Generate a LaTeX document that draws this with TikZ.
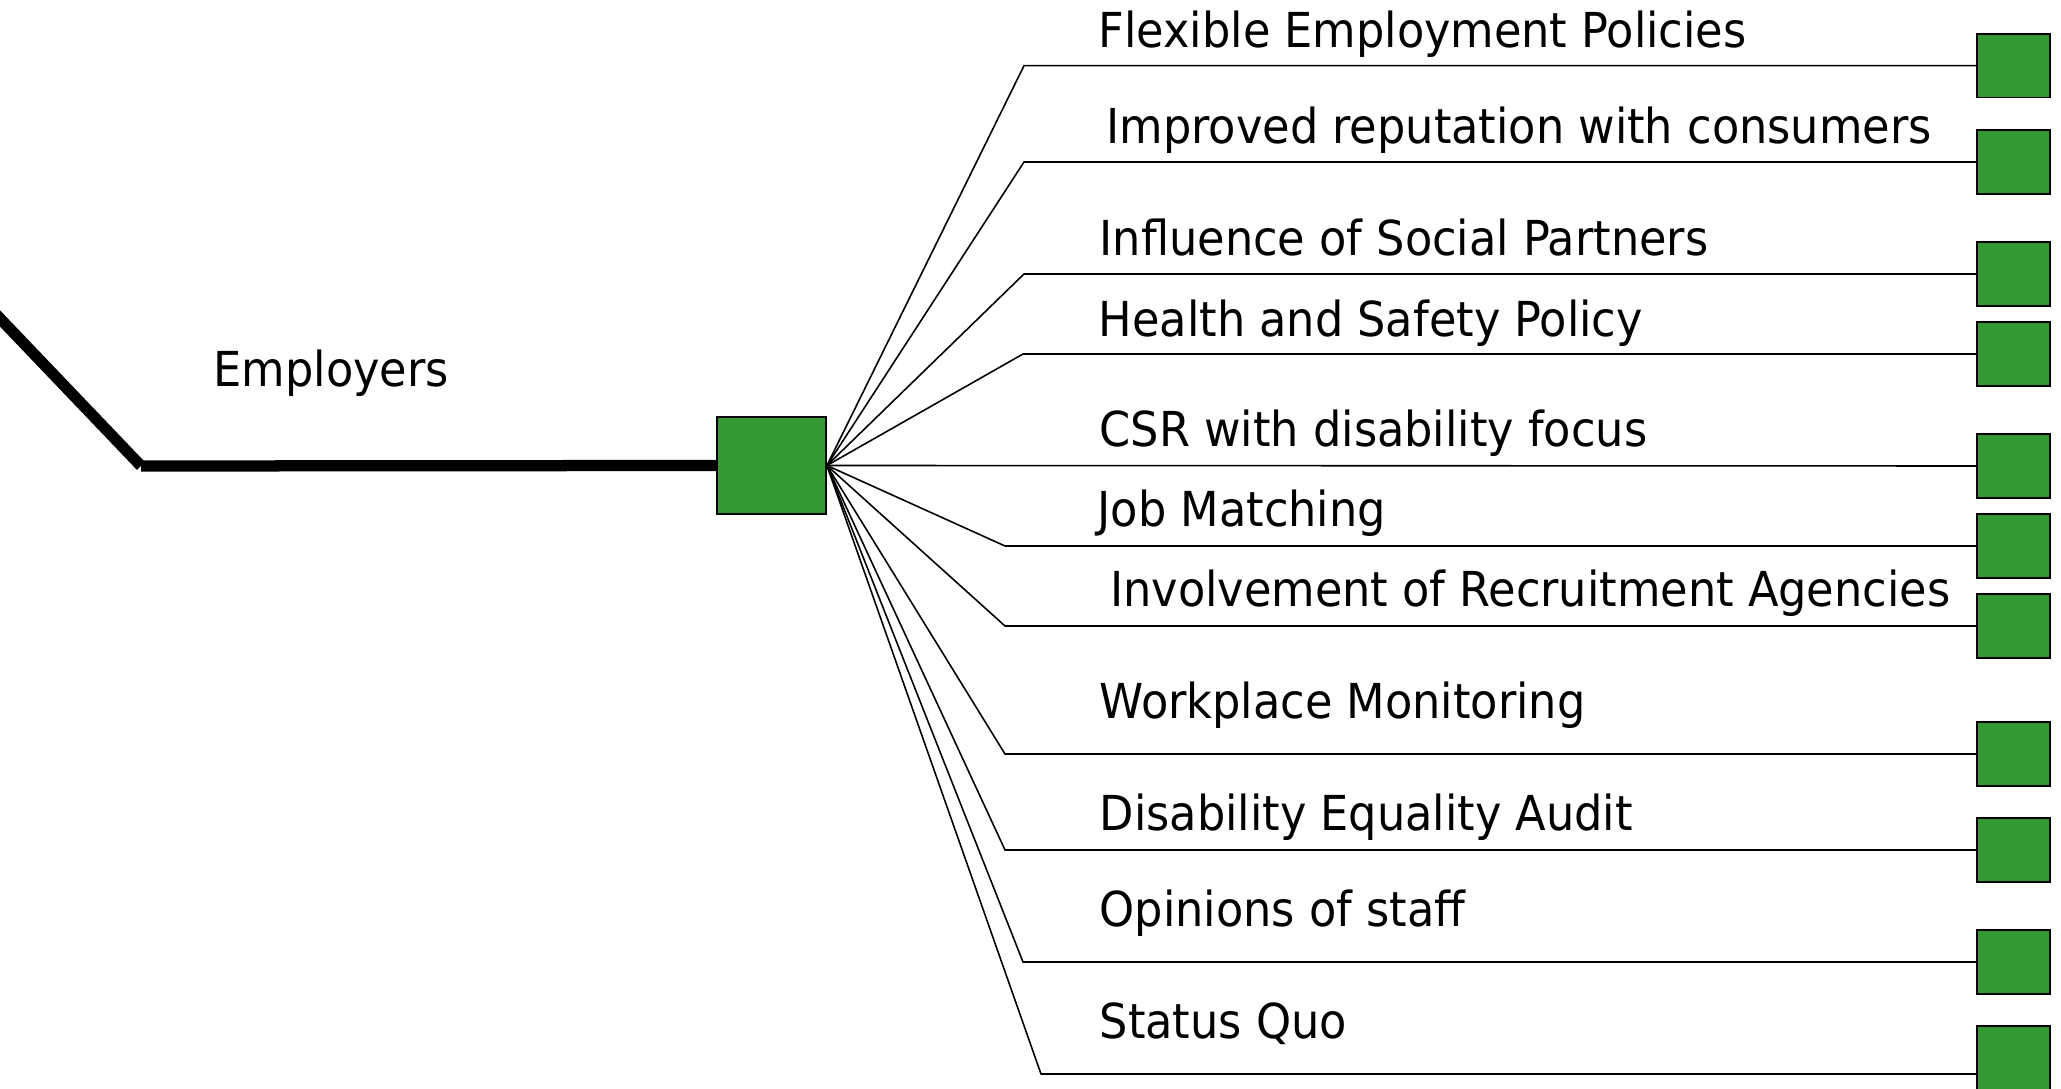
\documentclass[tikz,border=0pt]{standalone}
\usepackage{fontspec}
\setmainfont[FakeStretch=1.03]{DejaVu Sans Condensed}
\begin{document}
\begin{tikzpicture}[x=0.01cm,y=-0.01cm,
  leaf/.style={draw=black,line width=0.5pt,fill=boxgreen,inner sep=0pt,
    minimum width=0.73cm,minimum height=0.635cm},
  hubbox/.style={draw=black,line width=0.5pt,fill=boxgreen,inner sep=0pt,
    minimum width=1.09cm,minimum height=0.97cm},
  lbl/.style={anchor=base west,inner sep=0pt,font=\fontsize{13.7}{16}\selectfont},
  twig/.style={line width=0.45pt,draw=black},
  trunk/.style={line width=3.2pt,draw=black,line cap=butt}]
\definecolor{boxgreen}{RGB}{51,153,51}
\useasboundingbox (0,0) rectangle (2061,1089);

% central node and trunk
\node[hubbox] (hub) at (771.5,465.5) {};
\coordinate (trunktop) at (-10,308);
\coordinate (trunkknee) at (141,466);
\draw[trunk] (trunktop) -- (trunkknee);
\draw[trunk] (trunkknee) -- (hub.west);
\node[lbl] (employers) at (213,386.5) {Employers};

% leaf boxes on the right
\node[leaf] (r1)  at (2013.5,65.7) {};
\node[leaf] (r2)  at (2013.5,162) {};
\node[leaf] (r3)  at (2013.5,274) {};
\node[leaf] (r4)  at (2013.5,354) {};
\node[leaf] (r5)  at (2013.5,466) {};
\node[leaf] (r6)  at (2013.5,546) {};
\node[leaf] (r7)  at (2013.5,626) {};
\node[leaf] (r8)  at (2013.5,754) {};
\node[leaf] (r9)  at (2013.5,850) {};
\node[leaf] (r10) at (2013.5,962) {};
\node[leaf] (r11) at (2013.5,1058) {};

% bend points of the branches
\coordinate (b1)  at (1024,65.7);
\coordinate (b2)  at (1024,162);
\coordinate (b3)  at (1024,274);
\coordinate (b4)  at (1023,354);
\coordinate (b6)  at (1005,546);
\coordinate (b7)  at (1005,626);
\coordinate (b8)  at (1005,754);
\coordinate (b9)  at (1005,850);
\coordinate (b10) at (1023,962);
\coordinate (b11) at (1041,1074);

% branches
\draw[twig] (hub.east) -- (b1) -- (r1.west);
\draw[twig] (hub.east) -- (b2) -- (r2.west);
\draw[twig] (hub.east) -- (b3) -- (r3.west);
\draw[twig] (hub.east) -- (b4) -- (r4.west);
\draw[twig] (hub.east) -- (r5.west);
\draw[twig] (hub.east) -- (b6) -- (r6.west);
\draw[twig] (hub.east) -- (b7) -- (r7.west);
\draw[twig] (hub.east) -- (b8) -- (r8.west);
\draw[twig] (hub.east) -- (b9) -- (r9.west);
\draw[twig] (hub.east) -- (b10) -- (r10.west);
\draw[twig] (hub.east) -- (b11) -- (b11 -| r11.west);

% branch labels
\node[lbl] (t1)  at (1098,48)    {Flexible Employment Policies};
\node[lbl] (t2)  at (1106,144)   {Improved reputation with consumers};
\node[lbl] (t3)  at (1099,256)   {Influence of Social Partners};
\node[lbl] (t4)  at (1098,336.5) {Health and Safety Policy};
\node[lbl] (t5)  at (1099,446.7) {CSR with disability focus};
\node[lbl] (t6)  at (1097,526.7) {Job Matching};
\node[lbl] (t7)  at (1109.5,606.7) {Involvement of Recruitment Agencies};
\node[lbl] (t8)  at (1099,719)   {Workplace Monitoring};
\node[lbl] (t9)  at (1099,830.7) {Disability Equality Audit};
\node[lbl] (t10) at (1099,926.7) {Opinions of staff};
\node[lbl] (t11) at (1099,1038.3) {Status Quo};
\end{tikzpicture}
\end{document}
